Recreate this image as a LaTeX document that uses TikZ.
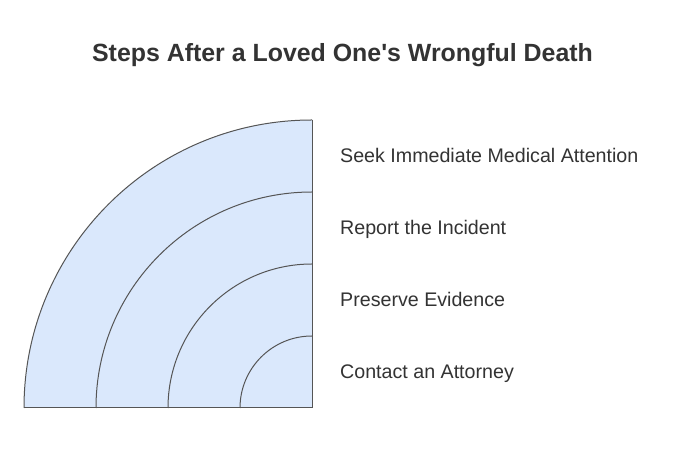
\documentclass[tikz,border=0pt]{standalone}
\usepackage{fontspec}
\setmainfont{Liberation Sans}
\definecolor{ringfill}{HTML}{DAE8FC}
\definecolor{ringline}{HTML}{555555}
\definecolor{textgray}{HTML}{333333}
\begin{document}
\begin{tikzpicture}[x=1pt,y=1pt,
    ring/.style={draw=ringline,line width=1pt},
    steplabel/.style={anchor=base west,inner sep=0pt,text=textgray,font=\fontsize{19.65}{22}\selectfont},
  ]
	\useasboundingbox[fill=white] (0,0) rectangle (685,457);

	% title
	\node[anchor=base,inner sep=0pt,text=textgray,font=\bfseries\fontsize{24.9}{28}\selectfont] (title) at (342.5,395.3) {Steps After a Loved One\textquotesingle s Wrongful Death};

	% quarter rings
	\coordinate (o) at (312,49);
	\fill[ringfill] (o) -- (24,49) arc[start angle=180,end angle=90,radius=288] -- cycle;
	\draw[ring] (24,49) arc[start angle=180,end angle=90,radius=288];
	\draw[ring] (96,49) arc[start angle=180,end angle=90,radius=216];
	\draw[ring] (168,49) arc[start angle=180,end angle=90,radius=144];
	\draw[ring] (240,49) arc[start angle=180,end angle=90,radius=72];
	\draw[ring] (24,49) -- (o) -- (312,337);

	% labels
	\node[steplabel] (s1) at (340,294.7) {Seek Immediate Medical Attention};
	\node[steplabel] (s2) at (340,222.7) {Report the Incident};
	\node[steplabel] (s3) at (340,150.7) {Preserve Evidence};
	\node[steplabel] (s4) at (340,78.7) {Contact an Attorney};

\end{tikzpicture}
\end{document}
